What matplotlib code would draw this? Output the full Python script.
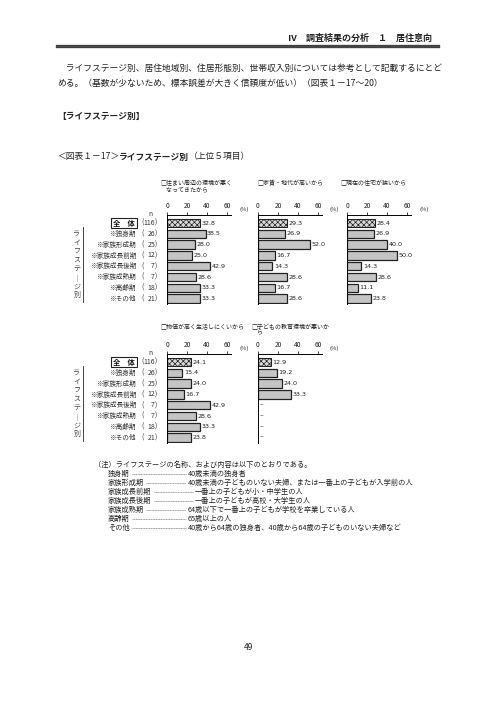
import matplotlib
matplotlib.use('Agg')
import matplotlib.pyplot as plt
from matplotlib.lines import Line2D
from matplotlib.transforms import blended_transform_factory

plt.rcParams['font.family'] = ['Noto Sans CJK JP', 'DejaVu Sans']
plt.rcParams['hatch.linewidth'] = 0.5

# --- data ---
categories = ['全　体', '※独身期', '※家族形成期', '※家族成長前期', '※家族成長後期',
              '※家族成熟期', '※高齢期', '※その他']
n_counts = [116, 26, 25, 12, 7, 7, 18, 21]

env_bad = [32.8, 38.5, 28.0, 25.0, 42.9, 28.6, 33.3, 33.3]
rent_high = [29.3, 26.9, 52.0, 16.7, 14.3, 28.6, 16.7, 28.6]
house_small = [28.4, 26.9, 40.0, 50.0, 14.3, 28.6, 11.1, 23.8]
prices_high = [24.1, 15.4, 24.0, 16.7, 42.9, 28.6, 33.3, 23.8]
edu_bad = [12.9, 19.2, 24.0, 33.3, None, None, None, None]

legend_texts = ['□住まい周辺の環境が悪く\n　なってきたから', '□家賃・地代が高いから',
                '□現在の住宅が狭いから', '□物価が高く生活しにくいから',
                '□子どもの教育環境が悪いか\n　ら']
x_ticks = [0, 20, 40, 60]

notes_names = ['独身期', '家族形成期', '家族成長前期', '家族成長後期', '家族成熟期', '高齢期', 'その他']
notes_desc = ['40歳未満の独身者',
              '40歳未満の子どものいない夫婦、または一番上の子どもが入学前の人',
              '一番上の子どもが小・中学生の人',
              '一番上の子どもが高校・大学生の人',
              '64歳以下で一番上の子どもが学校を卒業している人',
              '65歳以上の人',
              '40歳から64歳の独身者、40歳から64歳の子どものいない夫婦など']

W, H = 496, 702
fig = plt.figure(figsize=(W / 100, H / 100), dpi=100)


def fx(x):
    return x / W


def fy(y):
    return 1 - y / H


def ftext(x, y, s, **kw):
    kw.setdefault('fontsize', 6.3)
    kw.setdefault('va', 'center')
    kw.setdefault('color', '#222222')
    return fig.text(fx(x), fy(y), s, **kw)


def add_panel(x0, y_line, values, legend, lx, ly, lsp):
    ax = fig.add_axes([fx(x0), fy(y_line + 89), 64 / W, 89 / H])
    ax.set_xlim(0, 64)
    ax.set_ylim(7.5, -0.75)
    for i, v in enumerate(values):
        if v is None:
            ax.text(2, i, '–', va='center', ha='left', fontsize=5, color='#222')
            continue
        if i == 0:
            ax.barh(i, v, height=0.78, color='#d8d8d8', edgecolor='#222',
                    hatch='xxxxxx', linewidth=0.8)
        else:
            ax.barh(i, v, height=0.78, color='#c4c4c4', edgecolor='#222', linewidth=0.9)
        ax.text(v + 1.5, i, f'{v:.1f}', va='center', ha='left', fontsize=4.6,
                family='DejaVu Sans', color='#222')
    ax.xaxis.tick_top()
    ax.set_xticks(x_ticks)
    ax.tick_params(axis='x', direction='out', length=2, width=0.6, pad=1.5,
                   labelsize=4.8, colors='#222')
    ax.set_yticks([])
    for side in ['right', 'bottom']:
        ax.spines[side].set_visible(False)
    for side in ['top', 'left']:
        ax.spines[side].set_linewidth(0.7)
    ax.patch.set_alpha(0)
    ftext(x0 + 72, y_line - 6, '(%)', fontsize=4.2)
    ftext(lx, ly, legend, fontsize=4.3, va='top', linespacing=lsp)
    return ax


def add_labels(ax, vline_x=83):
    tr = blended_transform_factory(fig.transFigure, ax.transData)
    for i, (c, n) in enumerate(zip(categories, n_counts)):
        if i == 0:
            ax.text(fx(135), i, c, transform=tr, ha='right', va='center', fontsize=5.2,
                    fontweight='bold', color='#111',
                    bbox=dict(boxstyle='square,pad=0.25', fc='white', ec='#222', lw=0.8))
        else:
            ax.text(fx(136), i, c, transform=tr, ha='right', va='center', fontsize=4.8,
                    color='#333')
        ax.text(fx(141), i, '(', transform=tr, ha='left', va='center', fontsize=5, color='#333')
        ax.text(fx(155), i, str(n), transform=tr, ha='right', va='center', fontsize=5, color='#333')
        ax.text(fx(155), i, ')', transform=tr, ha='left', va='center', fontsize=5, color='#333')
    ax.text(fx(150), -0.8, 'n', transform=tr, ha='center', va='center', fontsize=4.8, color='#333')
    ax.add_artist(Line2D([fx(vline_x), fx(vline_x)], [0.4, 7.3], transform=tr,
                         color='#444', lw=0.7, clip_on=False))
    ax.text(fx(vline_x - 6), 3.85, '\n'.join('ライフステ｜ジ別'), transform=tr,
            ha='center', va='center', fontsize=5, linespacing=1.12, color='#444')


# --- header ---
ftext(432, 38, 'Ⅳ　調査結果の分析　１　居住意向', ha='right', fontsize=6.5,
      fontweight='bold', style='italic')
fig.add_artist(Line2D([fx(57), fx(438)], [fy(46), fy(46)], color='#444', lw=2.4))

ftext(57, 68, '　ライフステージ別、居住地域別、住居形態別、世帯収入別については参考として記載するにとど')
ftext(57, 83, 'める。（基数が少ないため、標本誤差が大きく信頼度が低い）（図表１－17～20）')
ftext(57, 116, '【ライフステージ別】', fontweight='bold')

renderer = fig.canvas.get_renderer()
t1 = ftext(57, 157, '＜図表１－17＞')
x_next = t1.get_window_extent(renderer).x1
t2 = fig.text(x_next / W, fy(157), 'ライフステージ別', fontsize=6.3, va='center',
              fontweight='bold', color='#222')
x_next = t2.get_window_extent(renderer).x1
fig.text(x_next / W, fy(157), '（上位５項目）', fontsize=6.3, va='center', color='#222')

# --- charts ---
ax1 = add_panel(167, 215, env_bad, legend_texts[0], 160, 180, 1.45)
add_panel(258, 215, rent_high, legend_texts[1], 257, 180, 1.45)
add_panel(347, 215, house_small, legend_texts[2], 340, 180, 1.45)
add_labels(ax1)

ax4 = add_panel(167, 354, prices_high, legend_texts[3], 160, 324, 1.05)
add_panel(258, 354, edu_bad, legend_texts[4], 251, 324, 1.05)
add_labels(ax4)

# --- notes ---
ftext(94, 465, '（注）ライフステージの名称、および内容は以下のとおりである。', fontsize=5.2)
for k, (nm, ds) in enumerate(zip(notes_names, notes_desc)):
    y = 474 + k * 9
    t = ftext(108, y, nm, fontsize=5.2)
    x_end = t.get_window_extent(renderer).x1
    x_desc = 195 if nm in ('家族成長前期', '家族成長後期') else 188
    fig.add_artist(Line2D([x_end / W + fx(2), fx(x_desc - 2)], [fy(y), fy(y)],
                          color='#555', lw=0.4, dashes=(2, 1)))
    ftext(x_desc, y, ds, fontsize=5.2)

ftext(248, 648, '49', ha='center', fontsize=6)

fig.savefig('out.png', dpi=100)
